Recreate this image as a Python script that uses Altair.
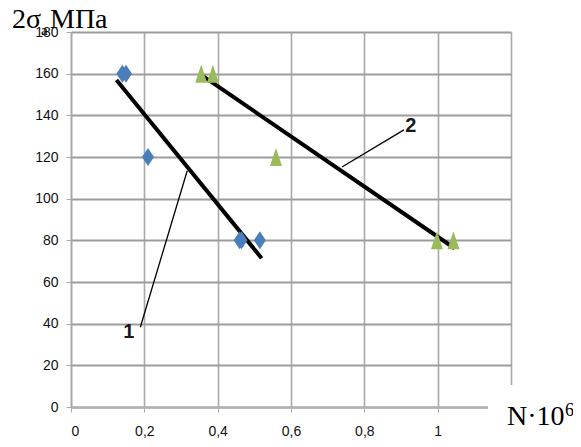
import altair as alt
import pandas as pd

# --- data ---
blue_x = [0.14, 0.15, 0.21, 0.46, 0.465, 0.515]
blue_y = [160, 160, 120, 80, 80, 80]
green_x = [0.355, 0.387, 0.559, 0.998, 1.043]
green_y = [160, 160, 120, 80, 80]

line1_x = [0.124, 0.52]
line1_y = [157, 71.4]
line2_x = [0.355, 1.046]
line2_y = [159.4, 76.2]

leader1_x = [0.317, 0.189]
leader1_y = [113.4, 38.3]
leader2_x = [0.739, 0.908]
leader2_y = [115.2, 133]

label_text = ["1", "2"]
label_x = [0.158, 0.927]
label_y = [36, 135]

x_ticks = [0, 0.2, 0.4, 0.6, 0.8, 1.0, 1.2]
y_ticks = list(range(0, 181, 20))

W, H = 440, 375
TICK_FONT = "Liberation Sans, Arial, sans-serif"
SERIF = "Liberation Serif, Times New Roman, serif"

xs = alt.Scale(domain=[0, 1.2], nice=False, zero=False)
ys = alt.Scale(domain=[0, 180], nice=False)

x_axis = alt.Axis(values=x_ticks, title=None, grid=True, gridColor="#a9a9a9", gridWidth=1.6,
                  domainColor="#b3b3b3", domainWidth=2.6, tickColor="#a9a9a9", tickSize=5,
                  labelFont=TICK_FONT, labelFontSize=14, labelColor="#111111", labelPadding=12,
                  labelExpr="datum.value > 1.1 ? '' : replace(format(datum.value, '.1~f'), '.', ',')")
y_axis = alt.Axis(values=y_ticks, title=None, grid=True, gridColor="#9c9c9c", gridWidth=2.2,
                  domainColor="#a9a9a9", domainWidth=1.6, tickColor="#a9a9a9", tickSize=5,
                  labelFont=TICK_FONT, labelFontSize=14, labelColor="#111111", labelPadding=8)

blue = pd.DataFrame({"x": blue_x, "y": blue_y})
green = pd.DataFrame({"x": green_x, "y": green_y})
lines = pd.DataFrame({
    "x": line1_x + line2_x,
    "y": line1_y + line2_y,
    "s": ["1", "1", "2", "2"],
})
leaders = pd.DataFrame({
    "x": leader1_x + leader2_x,
    "y": leader1_y + leader2_y,
    "s": ["1", "1", "2", "2"],
})
labels = pd.DataFrame({"t": label_text, "x": label_x, "y": label_y})

base_grid = alt.Chart(blue).mark_point(opacity=0).encode(
    x=alt.X("x:Q", scale=xs, axis=x_axis),
    y=alt.Y("y:Q", scale=ys, axis=y_axis),
)

diamond = "M0,-1.5L1,0L0,1.5L-1,0Z"
triangle = "M0,-1.5L1,1.5L-1,1.5Z"

blue_pts = alt.Chart(blue).mark_point(shape=diamond, size=144, filled=True, opacity=1,
                                      color="#4a7ebb").encode(
    x=alt.X("x:Q", scale=xs), y=alt.Y("y:Q", scale=ys))
green_pts = alt.Chart(green).mark_point(shape=triangle, size=144, filled=True, opacity=1,
                                        color="#9bbb59").encode(
    x=alt.X("x:Q", scale=xs), y=alt.Y("y:Q", scale=ys))

fit = alt.Chart(lines).mark_line(color="black", strokeWidth=4).encode(
    x=alt.X("x:Q", scale=xs), y=alt.Y("y:Q", scale=ys), detail="s:N")
lead = alt.Chart(leaders).mark_line(color="black", strokeWidth=1.3).encode(
    x=alt.X("x:Q", scale=xs), y=alt.Y("y:Q", scale=ys), detail="s:N")
lab = alt.Chart(labels).mark_text(font=TICK_FONT, fontSize=20, fontWeight="bold",
                                  color="#1a1a1a", baseline="middle", align="center").encode(
    x=alt.X("x:Q", scale=xs), y=alt.Y("y:Q", scale=ys), text="t:N")

mask = alt.Chart(pd.DataFrame({"a": [0]})).mark_rect(color="white").encode(
    x=alt.value(417), x2=alt.value(447), y=alt.value(353), y2=alt.value(398))

def txt(t, x, y, size, font=SERIF):
    return alt.Chart(pd.DataFrame({"t": [t]})).mark_text(
        font=font, fontSize=size, color="black", align="left", baseline="alphabetic"
    ).encode(x=alt.value(x), y=alt.value(y), text="t:N")

title_parts = [
    txt("2σ", -59, -4, 28),
    txt("a", -30, 3, 15),
    txt("МПа", -21, -4, 28),
    txt("N·10", 436, 393, 28),
    txt("6", 494, 384, 18),
]

chart = alt.layer(base_grid, fit, lead, blue_pts, green_pts, lab, mask, *title_parts).properties(
    width=W, height=H,
    autosize=alt.AutoSizeParams(type="none"),
    padding={"left": 63, "top": 24, "right": 62, "bottom": 32},
).configure_view(stroke=None)

chart.save("out.html", embed_options={"renderer": "svg", "actions": False})
